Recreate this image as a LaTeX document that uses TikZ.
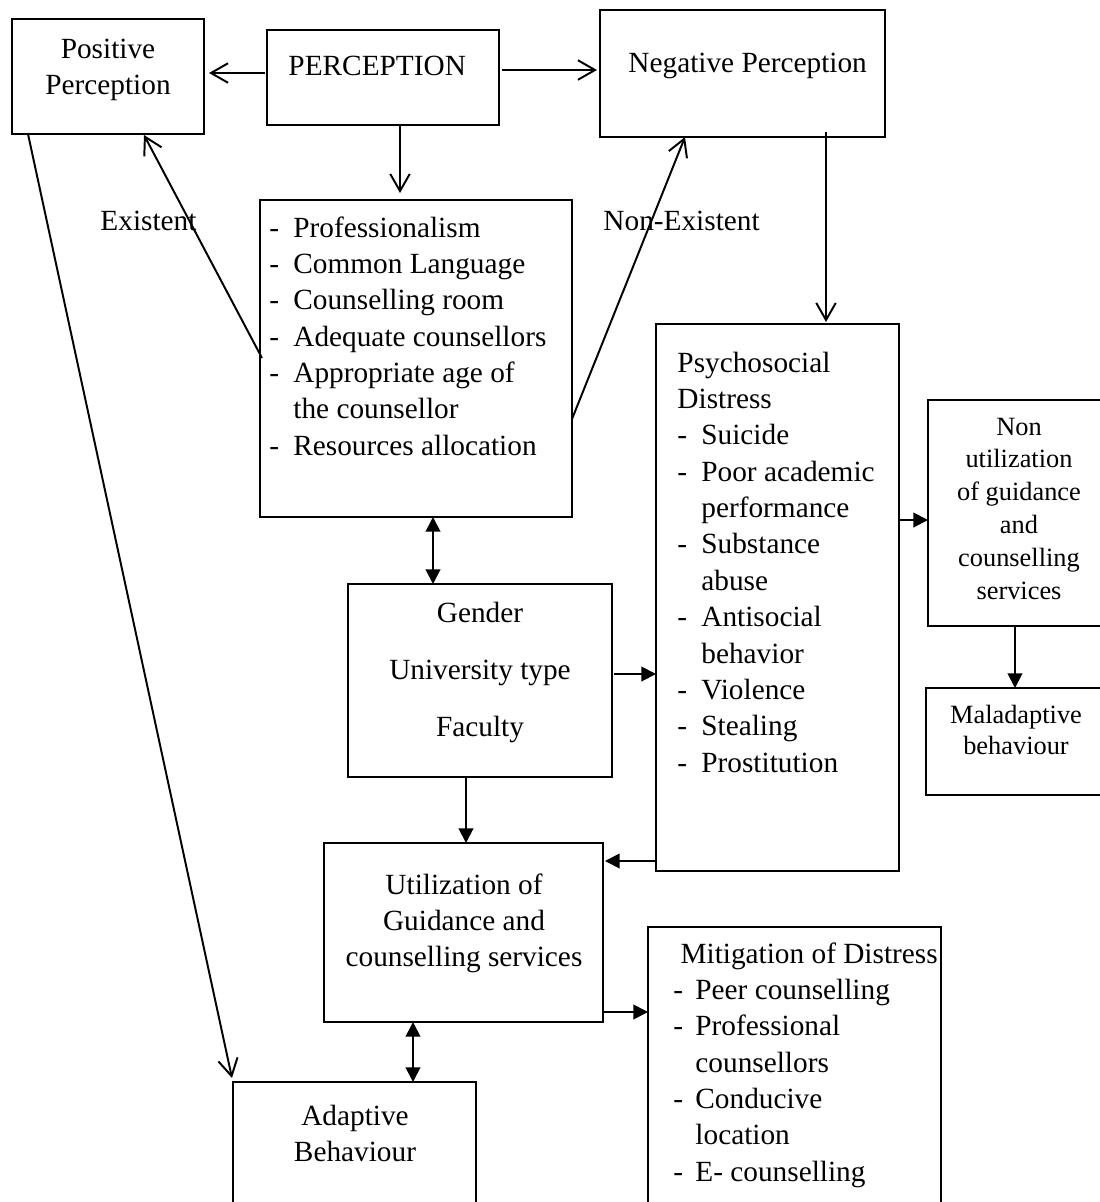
\documentclass[tikz,border=0pt]{standalone}
\usepackage{fontspec}
\setmainfont{Liberation Serif}
\usetikzlibrary{arrows.meta,calc,fit}
\newcommand{\dsh}[1][9.8pt]{\makebox[#1][l]{-}}
\tikzset{
  box/.style={draw, line width=0.8pt, inner sep=0pt, outer sep=0pt},
  txt/.style={inner sep=0pt, font=\fontsize{12}{14.9}\selectfont},
  small/.style={inner sep=0pt, font=\fontsize{10.8}{13.5}\selectfont},
  openarr/.style={line width=0.8pt, -{Straight Barb[length=7pt,width=8pt]}},
  fillarr/.style={line width=0.8pt, -{Triangle[length=6pt,width=6pt]}},
  dblarr/.style={line width=0.8pt, {Triangle[length=6pt,width=6pt]}-{Triangle[length=6pt,width=6pt]}}
}

\begin{document}
\begin{tikzpicture}[x=0.4096pt,y=-0.4096pt]
    \useasboundingbox (0,0) rectangle (1100,1202);
    \clip (0,0) rectangle (1100,1202);

    % boxes
    \node[box, fit={(12,19) (204,134)}] (pos) {};
    \node[box, fit={(267,30) (499,125)}] (perc) {};
    \node[box, fit={(600,10) (885,137)}] (neg) {};
    \node[box, fit={(260,200) (572,517)}] (list) {};
    \node[box, fit={(656,324) (899,871)}] (psych) {};
    \node[box, fit={(928,400) (1110,626)}] (nonu) {};
    \node[box, fit={(926,688) (1110,795)}] (mal) {};
    \node[box, fit={(348,584) (612,777)}] (gender) {};
    \node[box, fit={(324,843) (603,1022)}] (util) {};
    \node[box, fit={(648,927) (941,1215)}] (miti) {};
    \node[box, fit={(233,1082) (476,1215)}] (adap) {};

    % texts
    \node[txt, anchor=base] (posT) at (108,58) {\begin{tabular}[t]{@{}c@{}}Positive\\Perception\end{tabular}};
    \node[txt, anchor=base west] (percT) at (288,75) {PERCEPTION};
    \node[txt, anchor=base west] (negT) at (628,72) {Negative Perception};
    \node[txt, anchor=base west] (exT) at (100,230) {Existent};
    \node[txt, anchor=base west] (nexT) at (603,230) {Non-Existent};
    \node[txt, anchor=base west] (listT) at (269,237) {\begin{tabular}[t]{@{}l@{}}
        \dsh Professionalism\\ \dsh Common Language\\ \dsh Counselling room\\
        \dsh Adequate counsellors\\ \dsh Appropriate age of\\ \hspace*{9.8pt}the counsellor\\
        \dsh Resources allocation\end{tabular}};
    \node[txt, anchor=base west] (psychT) at (677,372) {\begin{tabular}[t]{@{}l@{}}
        Psychosocial\\ Distress\\ \dsh Suicide\\ \dsh Poor academic\\ \hspace*{9.8pt}performance\\
        \dsh Substance\\ \hspace*{9.8pt}abuse\\ \dsh Antisocial\\ \hspace*{9.8pt}behavior\\
        \dsh Violence\\ \dsh Stealing\\ \dsh Prostitution\end{tabular}};
    \node[small, anchor=base] (nonuT) at (1019,435) {\begin{tabular}[t]{@{}c@{}}Non\\utilization\\of guidance\\and\\counselling\\services\end{tabular}};
    \node[small, font=\fontsize{10.8}{13.1}\selectfont, anchor=base] (malT) at (1016,723) {\begin{tabular}[t]{@{}c@{}}Maladaptive\\behaviour\end{tabular}};
    \node[txt, anchor=base] (genderT) at (480,622) {\begin{tabular}[t]{@{}c@{}}Gender\\[8.65pt]University type\\[8.65pt]Faculty\end{tabular}};
    \node[txt, anchor=base] (utilT) at (464,894) {\begin{tabular}[t]{@{}c@{}}Utilization of\\Guidance and\\counselling services\end{tabular}};
    \node[txt, anchor=base] (adapT) at (355,1125) {\begin{tabular}[t]{@{}c@{}}Adaptive\\Behaviour\end{tabular}};
    \node[txt, anchor=base west] (mitiT) at (673,963) {\begin{tabular}[t]{@{}l@{}}
        \hspace*{2.9pt}Mitigation of Distress\\ \dsh[9pt]Peer counselling\\ \dsh[9pt]Professional\\
        \hspace*{9pt}counsellors\\ \dsh[9pt]Conducive\\ \hspace*{9pt}location\\ \dsh[9pt]E- counselling\end{tabular}};

    % connectors
    \draw[openarr] ($(perc.north west)+(-2,43)$) -- ($(pos.north east)+(5,54)$);
    \draw[openarr] ($(perc.north east)+(3,40)$) -- ($(neg.north west)+(-3,60)$);
    \draw[openarr] ($(perc.south west)+(133,0)$) -- ($(list.north west)+(140,-7)$);
    \draw[openarr] ($(list.north west)+(2,158)$) -- ($(pos.south west)+(132,1)$);
    \draw[openarr] ($(list.north east)+(0,219)$) -- ($(neg.south west)+(85,0)$);
    \draw[openarr] ($(pos.south west)+(16,0)$) -- ($(adap.north west)+(-1,-4)$);
    \draw[openarr] ($(neg.south west)+(226,-5)$) -- ($(psych.north west)+(170,-2)$);

    \draw[fillarr] ($(psych.north east)+(0,196)$) -- ($(nonu.north west)+(0,120)$);
    \draw[fillarr] ($(nonu.south west)+(87,0)$) -- ($(mal.north west)+(89,0)$);
    \draw[dblarr] ($(list.south west)+(173,0)$) -- ($(gender.north west)+(85,0)$);
    \draw[fillarr] ($(gender.north east)+(2,90)$) -- ($(psych.north west)+(0,350)$);
    \draw[fillarr] ($(gender.south west)+(118,0)$) -- ($(util.north west)+(142,0)$);
    \draw[fillarr] ($(psych.south west)+(0,-10)$) -- ($(util.north east)+(2,18)$);
    \draw[fillarr] ($(util.south east)+(0,-10)$) -- ($(miti.north west)+(0,85)$);
    \draw[dblarr] ($(util.south west)+(89,0)$) -- ($(adap.north west)+(180,0)$);
\end{tikzpicture}
\end{document}
